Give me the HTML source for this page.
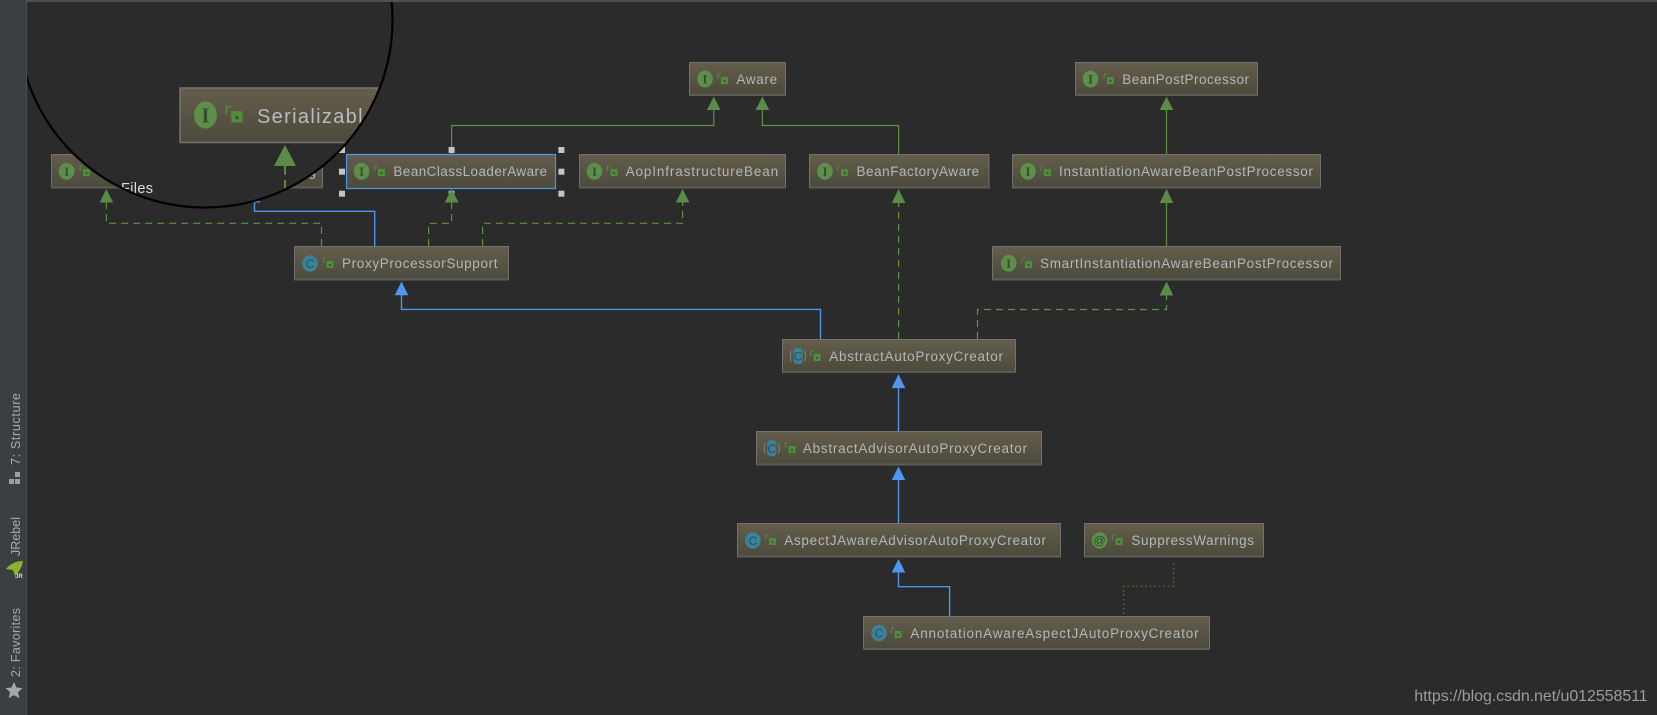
<!DOCTYPE html>
<html><head><meta charset="utf-8"><style>
html,body{margin:0;padding:0;background:#2b2b2b}
svg{display:block}
.t{font:13.5px "Liberation Sans",sans-serif;fill:#b3b7b9}
.side{font:12.5px "Liberation Sans",sans-serif;fill:#a5abb0}
.ic{font:bold 13px "Liberation Serif",serif;fill:#35502f;text-anchor:middle}
.cc{font:12px "Liberation Sans",sans-serif;fill:#27505e;text-anchor:middle}
.g{fill:none;stroke:#5f9145;stroke-width:1.2}
.gd{fill:none;stroke:#5f9145;stroke-width:1.2;stroke-dasharray:7 5}
.b{fill:none;stroke:#4d94ec;stroke-width:1.4}
.ga{fill:#5a8c48}.ba{fill:#4d97f0}
.hd{fill:#c4c4c4}
</style></head><body>
<svg width="1657" height="715" viewBox="0 0 1657 715" xmlns="http://www.w3.org/2000/svg">
<defs>
<linearGradient id="bx" x1="0" y1="0" x2="0" y2="1"><stop offset="0" stop-color="#655d4c"/><stop offset="1" stop-color="#4b4a3c"/></linearGradient>
<g id="lock"><rect x="-3" y="-3" width="7" height="7" fill="#4f8d3c"/><rect x="-.5" y="0" width="2" height="2" fill="#2f5a28"/><path d="M-6-6V-1M-6-6H-3" stroke="#4f8d3c" stroke-width="1" fill="none"/></g>
<g id="iI"><ellipse rx="7.8" ry="8.4" fill="#5d8f4a"/><text class="ic" y="4.500">I</text></g>
<g id="iC"><ellipse rx="7.8" ry="8.200" fill="#3b8199"/><text class="cc" y="4.500">C</text></g>
<g id="iA"><rect x="-4.500" y="-8" width="9" height="16" rx="3" fill="#3b8199"/><path d="M-6.500-5Q-9 0-6.500 5M6.500-5Q9 0 6.500 5" stroke="#7b8585" fill="none"/><text class="cc" y="4.500">C</text></g>
<clipPath id="lens"><circle cx="205" cy="20" r="187.500"/></clipPath>
<clipPath id="area"><rect x="27" y="2" width="1630" height="713"/></clipPath>
</defs>
<rect width="1657" height="715" fill="#2b2b2b"/>

<!-- connectors -->
<path class="g" d="M451.600 154V125.500H713.800V108"/>
<path class="g" d="M898.600 154V125.500H762.400V108"/>
<path class="g" d="M1166.500 154V108"/>
<path class="g" d="M1166.500 246V201"/>
<path class="gd" d="M898.600 339V201"/>
<path class="gd" d="M977.500 339V309.500H1166.500V293"/>
<path class="gd" d="M321.500 246V223.300H106.400V200"/>
<path class="gd" d="M428.600 246V223.300H451.600V200"/>
<path class="gd" d="M482.600 246V223.300H682.600V200"/>
<path class="b" d="M374.700 246V211.300H254.500V200"/>
<path class="b" d="M820.500 339V309.400H401.500V293"/>
<path class="b" d="M898.500 431V386"/>
<path class="b" d="M898.500 523V478"/>
<path class="b" d="M949.600 616V586.700H898.500V570"/>
<path d="M1123.600 614V586.300H1173.600V561" fill="none" stroke="#74740f" stroke-width="1.2" stroke-dasharray="1.500 3"/>

<!-- arrowheads -->
<g class="ga">
<path d="M713.800 96.500l6.800 13.500h-13.600z"/><path d="M762.400 96.500l6.800 13.500h-13.600z"/>
<path d="M1166.500 96.500l6.800 13.500h-13.600z"/><path d="M1166.500 189l6.800 14h-13.600z"/>
<path d="M1166.500 281.500l6.800 14h-13.600z"/><path d="M898.600 189l6.800 14h-13.600z"/>
<path d="M106.400 189l6.800 13.500h-13.600z"/><path d="M451.600 189l6.800 13.500h-13.600z"/><path d="M682.600 189l6.800 13.500h-13.600z"/>
</g>
<g class="ba">
<path d="M401.500 281.500l6.800 13.800h-13.600z"/><path d="M898.500 374.300l6.800 13.800h-13.600z"/>
<path d="M898.500 466.500l6.800 13.500h-13.600z"/><path d="M898.500 559l6.800 13.500h-13.600z"/>
</g>
<rect x="254" y="201" width="6" height="1.400" fill="#4d94ec"/>

<!-- boxes -->
<g fill="url(#bx)" stroke="#72726e" stroke-width="1">
<rect x="51.500" y="154.500" width="110" height="33.500"/>
<rect x="186.500" y="154.500" width="136" height="33.500"/>
<rect x="579.500" y="154.500" width="206" height="33.500"/>
<rect x="689.500" y="62.500" width="96" height="33"/>
<rect x="1075.500" y="62.500" width="182" height="33"/>
<rect x="809.500" y="154.500" width="179.500" height="33.500"/>
<rect x="1012.500" y="154.500" width="308" height="33.500"/>
<rect x="992.500" y="246.500" width="348" height="33.500"/>
<rect x="294.500" y="246.500" width="214" height="33.500"/>
<rect x="782.500" y="339.500" width="233" height="33"/>
<rect x="756.500" y="431.500" width="285" height="33.500"/>
<rect x="737.500" y="523.500" width="323" height="33.500"/>
<rect x="1084.500" y="523.500" width="179" height="33.500"/>
<rect x="863.500" y="616.500" width="346" height="33"/>
</g>
<g fill="#5c5c59">
<rect x="51" y="186.500" width="111" height="2"/><rect x="186" y="186.500" width="137" height="2"/>
<rect x="579" y="186.500" width="207" height="2"/><rect x="689" y="94" width="97" height="2"/>
<rect x="1075" y="94" width="183" height="2"/><rect x="809" y="186.500" width="181" height="2"/>
<rect x="1012" y="186.500" width="309" height="2"/><rect x="992" y="278.500" width="349" height="2"/>
<rect x="294" y="278.500" width="215" height="2"/><rect x="782" y="371" width="234" height="2"/>
<rect x="756" y="463.500" width="286" height="2"/><rect x="737" y="555.500" width="324" height="2"/>
<rect x="1084" y="555.500" width="180" height="2"/><rect x="863" y="648" width="347" height="2"/>
</g>

<!-- BeanClassLoaderAware (selected) -->
<rect x="346.500" y="154.500" width="209" height="34" fill="url(#bx)" stroke="#4d94ec" stroke-width="1.200"/>
<g class="hd">
<rect x="339" y="147" width="6" height="6"/><rect x="448.600" y="147" width="6" height="6"/><rect x="558.400" y="147" width="6" height="6"/>
<rect x="339" y="168.700" width="6" height="6"/><rect x="558.400" y="168.700" width="6" height="6"/>
<rect x="339" y="190.700" width="6" height="6"/><rect x="558.400" y="190.700" width="6" height="6"/>
</g>
<rect x="448.600" y="190.700" width="6" height="3" fill="#a9b3a4"/>
<path class="ga" d="M451.600 189l6.800 13.500h-13.600z"/>

<!-- icons and labels -->
<use href="#iI" x="66.600" y="171.300"/><use href="#lock" x="86" y="172"/>
<text class="t" x="280" y="176" textLength="36" lengthAdjust="spacing">Config</text>

<use href="#iI" x="361.600" y="171.300"/><use href="#lock" x="381" y="172"/>
<text class="t" x="393.400" y="176" textLength="153.600" lengthAdjust="spacing">BeanClassLoaderAware</text>
<use href="#iI" x="594.500" y="171.300"/><use href="#lock" x="613.500" y="172"/>
<text class="t" x="625.600" y="176" textLength="152.500" lengthAdjust="spacing">AopInfrastructureBean</text>
<use href="#iI" x="705" y="79"/><use href="#lock" x="724" y="80"/>
<text class="t" x="736.400" y="84" textLength="40.700" lengthAdjust="spacing">Aware</text>
<use href="#iI" x="1090.500" y="79"/><use href="#lock" x="1110" y="80"/>
<text class="t" x="1122.300" y="84" textLength="126.700" lengthAdjust="spacing">BeanPostProcessor</text>
<use href="#iI" x="825" y="171.300"/><use href="#lock" x="844" y="172"/>
<text class="t" x="856.500" y="176" textLength="122.700" lengthAdjust="spacing">BeanFactoryAware</text>
<use href="#iI" x="1028" y="171.300"/><use href="#lock" x="1047" y="172"/>
<text class="t" x="1059" y="176" textLength="254" lengthAdjust="spacing">InstantiationAwareBeanPostProcessor</text>
<use href="#iI" x="1008.700" y="263.300"/><use href="#lock" x="1028" y="264"/>
<text class="t" x="1040" y="268" textLength="293" lengthAdjust="spacing">SmartInstantiationAwareBeanPostProcessor</text>
<use href="#iC" x="310" y="263.500"/><use href="#lock" x="329.500" y="264"/>
<text class="t" x="342" y="268" textLength="155.500" lengthAdjust="spacing">ProxyProcessorSupport</text>
<use href="#iA" x="798" y="356"/><use href="#lock" x="816.600" y="357"/>
<text class="t" x="829.200" y="361" textLength="173.800" lengthAdjust="spacing">AbstractAutoProxyCreator</text>
<use href="#iA" x="771.800" y="448.300"/><use href="#lock" x="791.400" y="449"/>
<text class="t" x="802.900" y="453" textLength="224.100" lengthAdjust="spacing">AbstractAdvisorAutoProxyCreator</text>
<use href="#iC" x="752.900" y="540.500"/><use href="#lock" x="772" y="541"/>
<text class="t" x="784.300" y="545" textLength="261.700" lengthAdjust="spacing">AspectJAwareAdvisorAutoProxyCreator</text>
<ellipse cx="1099.600" cy="540.500" rx="7.800" ry="8.200" fill="#5d8f4a"/><text x="1099.600" y="544.500" font-family="Liberation Sans" font-size="12" fill="#2f4a2c" text-anchor="middle">@</text><use href="#lock" x="1118.600" y="541"/>
<text class="t" x="1131.400" y="545" textLength="122.600" lengthAdjust="spacing">SuppressWarnings</text>
<use href="#iC" x="879" y="633"/><use href="#lock" x="897.500" y="634"/>
<text class="t" x="910.400" y="638" textLength="288.200" lengthAdjust="spacing">AnnotationAwareAspectJAutoProxyCreator</text>

<!-- magnifier lens -->
<g clip-path="url(#area)">
<circle cx="205" cy="20" r="187.500" fill="#2b2b2b"/>
<g clip-path="url(#lens)">
<rect x="180" y="88" width="240" height="54.500" fill="url(#bx)" stroke="#74746e" stroke-width="1.500"/>
<ellipse cx="205.500" cy="115" rx="11.500" ry="13.500" fill="#5d8f4a"/>
<text x="205.500" y="122.500" font-family="Liberation Serif" font-weight="bold" font-size="21" fill="#35502f" text-anchor="middle">I</text>
<g transform="translate(236 116) scale(1.600)"><use href="#lock"/></g>
<text x="257" y="123" font-family="Liberation Sans" font-size="20" fill="#b9bdbf" textLength="118" lengthAdjust="spacing">Serializable</text>
<path d="M285 145l11 21h-22z" fill="#5a8c48"/>
<path d="M285 166V190" stroke="#5f9145" stroke-width="1.800" stroke-dasharray="9 5" fill="none"/>
</g>
<text x="121" y="193" font-family="Liberation Sans" font-size="14.500" fill="#dcdcdc" textLength="32" lengthAdjust="spacing" clip-path="url(#lens)">Files</text>
<circle cx="205" cy="20" r="187.500" fill="none" stroke="#000" stroke-width="2.200"/>
</g>

<!-- sidebar and top border -->
<rect x="0" y="0" width="27" height="715" fill="#3c3f41"/>
<rect x="26" y="0" width="1" height="715" fill="#4b4e50"/>
<rect x="26" y="0" width="1631" height="2" fill="#4d5053"/>
<g transform="translate(20 465) rotate(-90)"><text class="side" textLength="72" lengthAdjust="spacing">7: Structure</text></g>
<g fill="#9a9fa2"><rect x="9" y="479" width="5" height="5"/><rect x="15" y="479" width="5" height="5"/><rect x="15" y="472" width="5" height="5"/></g>
<g transform="translate(20 556) rotate(-90)"><text class="side" textLength="39" lengthAdjust="spacing">JRebel</text></g>
<path d="M6 569C10 564 16 561 23 561C22 567 19 572 15 576L13 570z" fill="#8ab42f"/><text x="15" y="578" font-family="Liberation Sans" font-weight="bold" font-size="6" fill="#ddd">JR</text>
<g transform="translate(20 677) rotate(-90)"><text class="side" textLength="69" lengthAdjust="spacing">2: Favorites</text></g>
<path d="M14 682l2.500 5.500 6 .6-4.500 4 1.300 6-5.300-3-5.300 3 1.300-6-4.500-4 6-.6z" fill="#a3a7aa"/>

<text x="1414.300" y="701" font-family="Liberation Sans" font-size="16" fill="#9c9c9c" textLength="233.400" lengthAdjust="spacing">https://blog.csdn.net/u012558511</text>
</svg>
</body></html>
